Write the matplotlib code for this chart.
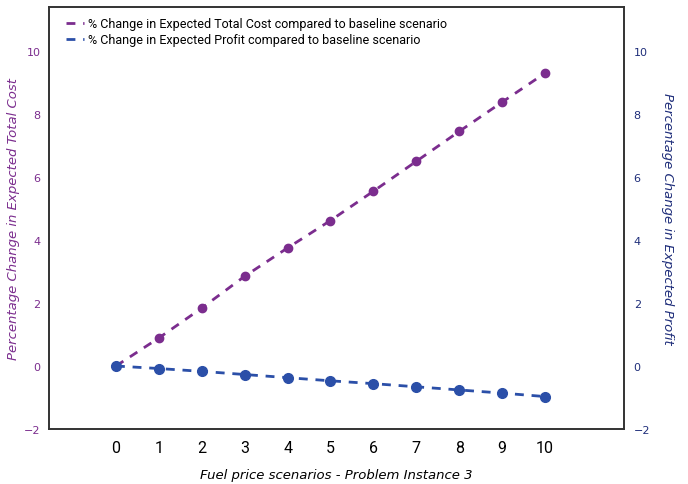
import matplotlib
matplotlib.use("Agg")
import matplotlib.pyplot as plt

scenarios = [0, 1, 2, 3, 4, 5, 6, 7, 8, 9, 10]
cost_change = [0.0, 0.89, 1.84, 2.85, 3.75, 4.62, 5.55, 6.5, 7.45, 8.38, 9.3]
profit_change = [0.0, -0.08, -0.17, -0.27, -0.37, -0.47, -0.56, -0.66, -0.76, -0.86, -0.97]
yticks = [-2, 0, 2, 4, 6, 8, 10]

purple = "#7B2D8E"
blue = "#2B4FA8"
navy = "#1F2E7A"

plt.rcParams['font.family'] = ['DejaVu Sans']
fig = plt.figure(figsize=(6.88, 4.85), dpi=100)
ax = fig.add_axes([49/688, 1-430/485, (624-49)/688, (430-8)/485])
ax2 = ax.twinx()

l1, = ax.plot(scenarios, cost_change, linestyle=(0, (3.2, 2.8)), color=purple, lw=2,
              marker='o', ms=6, label='% Change in Expected Total Cost compared to baseline scenario')
l2, = ax2.plot(scenarios, profit_change, linestyle=(0, (3.2, 2.8)), color=blue, lw=2,
               marker='o', ms=7, label='% Change in Expected Profit compared to baseline scenario')

for a in (ax, ax2):
    a.set_ylim(-2, 11.4)
    a.set_xlim(-1.56, 11.84)
    a.set_yticks(yticks)
ax.set_xticks(scenarios)
ax.tick_params(axis='x', length=0, pad=8, labelsize=11)
ax.tick_params(axis='y', length=0, pad=6, labelsize=8, labelcolor=purple)
ax2.tick_params(axis='y', length=0, pad=7, labelsize=8, labelcolor=navy)
for lab in ax.get_xticklabels():
    lab.set_fontfamily('Roboto')
    lab.set_fontsize(11.5)
for a in (ax, ax2):
    for s in a.spines.values():
        s.set_color('#333333')
        s.set_linewidth(1.2)

ax.set_ylabel('Percentage Change in Expected Total Cost', color=purple, style='italic', fontsize=9.5)
ax.yaxis.set_label_coords(-0.050, 0.5)
ax2.set_ylabel('Percentage Change in Expected Profit', color=navy, style='italic', fontsize=9.5, rotation=270,
               va='center')
ax2.yaxis.set_label_coords(1.075, 0.5)
ax.set_xlabel('Fuel price scenarios - Problem Instance 3', style='italic', fontsize=9.5, va='center')
ax.xaxis.set_label_coords(0.5, -0.107)

leg = ax.legend(handles=[l1, l2], loc='upper left', bbox_to_anchor=(0.015, 0.997), frameon=False,
                prop={'family': 'Roboto', 'size': 9}, handlelength=1.4, handletextpad=0.3,
                labelspacing=0.25, borderaxespad=0.3)
for h in leg.legend_handles:
    h.set_marker('')

fig.savefig('out.png', dpi=100)
